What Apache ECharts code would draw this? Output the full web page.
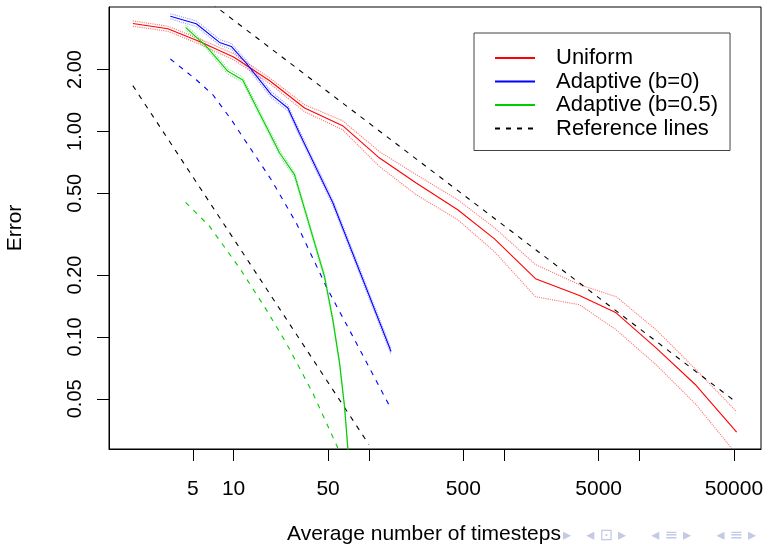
<!DOCTYPE html>
<html>
<head>
<meta charset="utf-8">
<script src="https://cdn.jsdelivr.net/npm/echarts@6/dist/echarts.min.js"></script>
<style>
  html, body { margin: 0; padding: 0; background: #fff; }
  #main { width: 769px; height: 544px; }
</style>
</head>
<body>
<div id="main"></div>
<script>
// ---- data (log-log plot) ----
const uniformN   = [1.8, 3.27, 5.6, 10, 18.5, 33.5, 64, 120, 224, 454, 849, 1706, 3606, 6730, 13280, 26240, 52400];
const uniformErr = [3.35, 3.16, 2.74, 2.30, 1.765, 1.30, 1.066, 0.742, 0.561, 0.416, 0.300, 0.192, 0.159, 0.131, 0.0884, 0.0582, 0.0344];
const uniformHi  = [3.45, 3.25, 2.82, 2.39, 1.82, 1.35, 1.127, 0.797, 0.616, 0.465, 0.340, 0.225, 0.1795, 0.157, 0.1084, 0.0693, 0.0433];
const uniformLo  = [3.25, 3.07, 2.66, 2.23, 1.71, 1.247, 1.019, 0.674, 0.492, 0.372, 0.260, 0.157, 0.1435, 0.1084, 0.0733, 0.0469, 0.0268];

const adaptN   = [3.41, 5.30, 7.88, 9.62, 12.4, 19.0, 25.2, 30.7, 54.2, 146];
const adaptErr = [3.63, 3.34, 2.71, 2.59, 2.15, 1.51, 1.30, 0.98, 0.45, 0.085];
const adaptHi  = [3.74, 3.45, 2.80, 2.68, 2.22, 1.56, 1.34, 1.01, 0.465, 0.088];
const adaptLo  = [3.53, 3.24, 2.63, 2.51, 2.08, 1.46, 1.26, 0.95, 0.436, 0.082];

const halfN   = [4.42, 6.29, 9.08, 11.7, 14.7, 18.5, 21.9, 28.2, 47.0, 54.2, 60.7, 66.1, 70.5];
const halfErr = [3.21, 2.59, 1.96, 1.78, 1.32, 0.98, 0.785, 0.616, 0.197, 0.121, 0.075, 0.046, 0.027];
const halfHi  = [3.30, 2.67, 2.02, 1.83, 1.36, 1.01, 0.81, 0.635, 0.203, 0.125, 0.077, 0.047, 0.028];
const halfLo  = [3.12, 2.52, 1.90, 1.73, 1.28, 0.95, 0.76, 0.597, 0.191, 0.117, 0.073, 0.045, 0.026];

// reference lines
const refHighN   = [1.8, 52400];
const refHighErr = [8.2, 0.048];
const refLowN    = [1.8, 100];
const refLowErr  = [1.67, 0.030];
const adaptRefN   = [3.41, 5.30, 7.03, 9.62, 19.0, 29.1, 48.4, 76.1, 146];
const adaptRefErr = [2.25, 1.784, 1.508, 1.14, 0.582, 0.358, 0.176, 0.1007, 0.0447];
const halfRefN   = [4.42, 6.65, 11.07, 17.45, 24.5, 38.5, 59.0];
const halfRefErr = [0.4515, 0.345, 0.2166, 0.1358, 0.0935, 0.0534, 0.0288];

// ticks / labels
const xTicks  = [5, 10, 50, 100, 500, 1000, 5000, 10000, 50000];
const xLabels = [5, 10, 50, 500, 5000, 50000];
const yTicks  = [0.05, 0.1, 0.2, 0.5, 1, 2];

const FONT = 'Liberation Sans';
const RED = '#FF0000', BLUE = '#0000FF', GREEN = '#00CD00';

function pairs(xs, ys) {
  return xs.map(function (x, i) { return [x, ys[i]]; });
}

function line(name, xs, ys, color, type, opacity, z) {
  return {
    name: name,
    type: 'line',
    data: pairs(xs, ys),
    symbol: 'none',
    clip: true,
    z: z || 2,
    lineStyle: { color: color, width: 1.1, type: type || 'solid', opacity: opacity == null ? 1 : opacity },
    itemStyle: { color: color },
    emphasis: { disabled: true }
  };
}

var chart = echarts.init(document.getElementById('main'));

var option = {
  animation: false,
  backgroundColor: '#fff',
  grid: {
    left: 109, top: 7, width: 652, height: 442,
    show: true, borderColor: '#000', borderWidth: 1,
    outerBoundsMode: 'none'
  },
  legend: {
    data: ['Uniform', 'Adaptive (b=0)', 'Adaptive (b=0.5)', 'Reference lines'],
    orient: 'vertical',
    left: 474, top: 33,
    padding: [14, 12, 11, 20],
    itemWidth: 40, itemHeight: 12, itemGap: 1.5,
    selectedMode: false,
    borderColor: '#444', borderWidth: 1,
    itemStyle: { opacity: 0 },
    textStyle: { color: '#000', fontSize: 22, fontFamily: FONT, lineHeight: 22, padding: [0, 0, 0, 16] }
  },
  xAxis: {
    type: 'log', logBase: 10,
    min: 1.2, max: 79300,
    name: 'Average number of timesteps',
    nameLocation: 'middle', nameGap: 75,
    nameTextStyle: { color: '#000', fontSize: 21, fontFamily: FONT, padding: [0, 22, 0, 0] },
    axisLine: { show: true, lineStyle: { color: '#000', width: 1 } },
    axisTick: { show: true, inside: false, length: 12, customValues: xTicks, lineStyle: { color: '#000' } },
    axisLabel: {
      customValues: xLabels, margin: 30,
      color: '#000', fontSize: 21, fontFamily: FONT,
      formatter: function (v) { return String(Math.round(v)); }
    },
    minorTick: { show: false },
    splitLine: { show: false }
  },
  yAxis: {
    type: 'log', logBase: 10,
    min: 0.0285, max: 4.03,
    name: 'Error',
    nameLocation: 'middle', nameGap: 83, nameRotate: 90,
    nameTextStyle: { color: '#000', fontSize: 21, fontFamily: FONT },
    axisLine: { show: true, lineStyle: { color: '#000', width: 1 } },
    axisTick: { show: true, inside: false, length: 12, customValues: yTicks, lineStyle: { color: '#000' } },
    axisLabel: {
      customValues: yTicks, margin: 24, rotate: 90,
      color: '#000', fontSize: 20, fontFamily: FONT,
      formatter: function (v) { return v.toFixed(2); }
    },
    minorTick: { show: false },
    splitLine: { show: false }
  },
  graphic: [{
    type: 'text', left: 563, top: 528, silent: true,
    style: { text: '▸   ◂ ⊡ ▸     ◂ ≡ ▸     ◂ ≡ ▸', fill: '#c4c9e4', font: '16px "DejaVu Sans"' }
  }],
  series: [
    line('Uniform +', uniformN, uniformHi, RED, 'dotted', 0.55),
    line('Uniform -', uniformN, uniformLo, RED, 'dotted', 0.55),
    line('Adaptive (b=0) +', adaptN, adaptHi, BLUE, 'dotted', 0.4),
    line('Adaptive (b=0) -', adaptN, adaptLo, BLUE, 'dotted', 0.4),
    line('Adaptive (b=0.5) +', halfN, halfHi, GREEN, 'dotted', 0.45),
    line('Adaptive (b=0.5) -', halfN, halfLo, GREEN, 'dotted', 0.45),
    line('Reference lines', refHighN, refHighErr, '#000', [5, 6], 1),
    line('Reference lines', refLowN, refLowErr, '#000', [5, 6], 1),
    line('Adaptive ref', adaptRefN, adaptRefErr, BLUE, [5, 6], 1),
    line('Adaptive (b=0.5) ref', halfRefN, halfRefErr, GREEN, [5, 6], 1),
    line('Uniform', uniformN, uniformErr, RED, 'solid', 1, 3),
    line('Adaptive (b=0)', adaptN, adaptErr, BLUE, 'solid', 1, 3),
    line('Adaptive (b=0.5)', halfN, halfErr, GREEN, 'solid', 1, 3)
  ]
};

chart.setOption(option);
</script>
</body>
</html>
